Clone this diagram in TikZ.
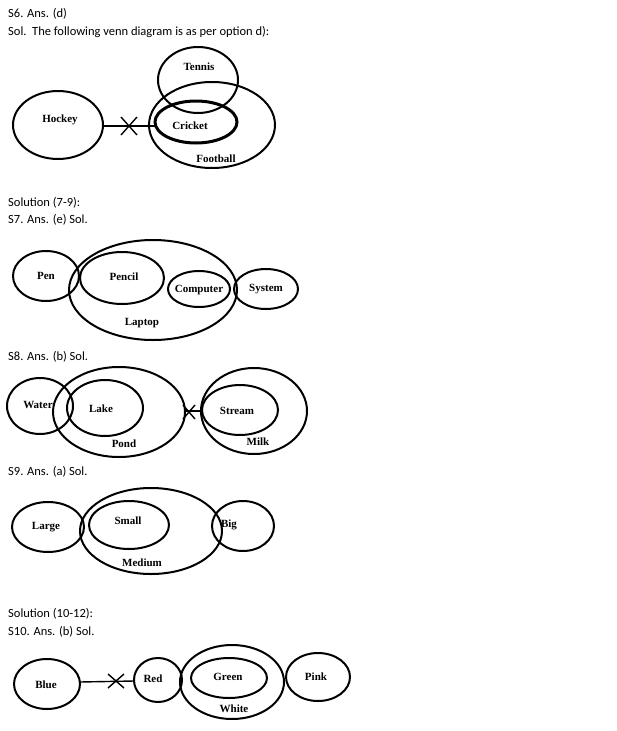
\documentclass[tikz,border=0pt]{standalone}
\usepackage{fontspec}
\usetikzlibrary{calc}
\setmainfont{Liberation Serif}
\newfontfamily\hdr{Carlito}
\begin{document}
\begin{tikzpicture}[x=1pt,y=-1pt,
  ov/.style={draw=black,line width=2pt},
  lb/.style={font=\bfseries\fontsize{11}{12}\selectfont,inner sep=0pt},
  hd/.style={font=\hdr\fontsize{12.5}{14}\selectfont,anchor=west,inner sep=0pt},
  cross/.style={line width=1.4pt}]
\useasboundingbox[fill=white] (0,0) rectangle (617,731);
% headers
\node[hd] (h1) at (8,14) {S6. Ans. (d)};
\node[hd] (h2) at (8,32) {Sol.\ \ The following venn diagram is as per option d):};
\node[hd] (h3) at (8,203) {Solution (7-9):};
\node[hd] (h4) at (8,220) {S7. Ans. (e) Sol.};
\node[hd] (h5) at (8,357) {S8. Ans. (b) Sol.};
\node[hd] (h6) at (8,472) {S9. Ans. (a) Sol.};
\node[hd] (h7) at (8,614) {Solution (10-12):};
\node[hd] (h8) at (8,632) {S10. Ans. (b) Sol.};
% S6
\draw[ov] (58,125) ellipse [x radius=45,y radius=34];
\draw[ov] (198,80) ellipse [x radius=40,y radius=33];
\draw[ov] (212,125) ellipse [x radius=63,y radius=43];
\draw[ov,line width=3pt] (196,122) ellipse [x radius=41,y radius=21];
\coordinate (hR) at (103,126); \coordinate (cL) at (155,126);
\coordinate (x1) at (129,126);
\draw[line width=1.4pt] (hR) -- (cL);
\draw[cross] ($(x1)+(-8,-9)$) -- ($(x1)+(8,9)$) ($(x1)+(-8,9)$) -- ($(x1)+(8,-9)$);
\node[lb] (l1) at (60,120) {Hockey};
\node[lb] (l2) at (199,67) {Tennis};
\node[lb] (l3) at (190,126) {Cricket};
\node[lb] (l4) at (216,159) {Football};
% S7
\draw[ov] (46,276) ellipse [x radius=33,y radius=25];
\draw[ov] (122,278) ellipse [x radius=42,y radius=26];
\draw[ov] (153,290) ellipse [x radius=84,y radius=50];
\draw[ov] (199,289) ellipse [x radius=31,y radius=18];
\draw[ov] (266,289) ellipse [x radius=32,y radius=20];
\node[lb] (l5) at (46,276) {Pen};
\node[lb] (l6) at (124,277) {Pencil};
\node[lb] (l7) at (142,323) {Laptop};
\node[lb] (l8) at (199,290) {Computer};
\node[lb] (l9) at (266,289) {System};
% S8
\draw[ov] (40,406) ellipse [x radius=33,y radius=28];
\draw[ov] (105,408) ellipse [x radius=38,y radius=28];
\draw[ov] (119,412) ellipse [x radius=66,y radius=45];
\draw[ov] (240,410) ellipse [x radius=38,y radius=25];
\draw[ov] (254,411) ellipse [x radius=53,y radius=43];
\coordinate (pR) at (185,411); \coordinate (mL) at (201,411);
\draw[line width=1.4pt] (pR) -- (mL);
\coordinate (x2) at (189,412);
\draw[cross] ($(x2)+(-6,-7)$) -- ($(x2)+(6,7)$) ($(x2)+(-6,7)$) -- ($(x2)+(6,-7)$);
\node[lb] (l10) at (38,405) {Water};
\node[lb] (l11) at (101,409) {Lake};
\node[lb] (l12) at (124,444) {Pond};
\node[lb] (l13) at (237,411) {Stream};
\node[lb] (l14) at (258,442) {Milk};
% S9
\draw[ov] (48,527) ellipse [x radius=36,y radius=25];
\draw[ov] (129,525) ellipse [x radius=40,y radius=24];
\draw[ov] (151,531) ellipse [x radius=71,y radius=43];
\draw[ov] (243,526) ellipse [x radius=31,y radius=25];
\node[lb] (l15) at (46,527) {Large};
\node[lb] (l16) at (128,521) {Small};
\node[lb] (l17) at (142,563) {Medium};
\node[lb] (l18) at (229,525) {Big};
% S10
\draw[ov] (47,684) ellipse [x radius=33,y radius=25];
\draw[ov] (158,680) ellipse [x radius=24,y radius=22];
\draw[ov] (232,682) ellipse [x radius=52,y radius=37];
\draw[ov] (229,678) ellipse [x radius=38,y radius=20];
\draw[ov] (318,677) ellipse [x radius=32,y radius=24];
\coordinate (bR) at (80,682); \coordinate (rL) at (134,681);
\draw[line width=1.4pt] (bR) -- (rL);
\coordinate (x3) at (116,681);
\draw[cross] ($(x3)+(-8,-7)$) -- ($(x3)+(8,7)$) ($(x3)+(-8,7)$) -- ($(x3)+(8,-7)$);
\node[lb] (l19) at (46,685) {Blue};
\node[lb] (l20) at (153,679) {Red};
\node[lb] (l21) at (228,677) {Green};
\node[lb] (l22) at (234,709) {White};
\node[lb] (l23) at (316,677) {Pink};
\end{tikzpicture}
\end{document}
